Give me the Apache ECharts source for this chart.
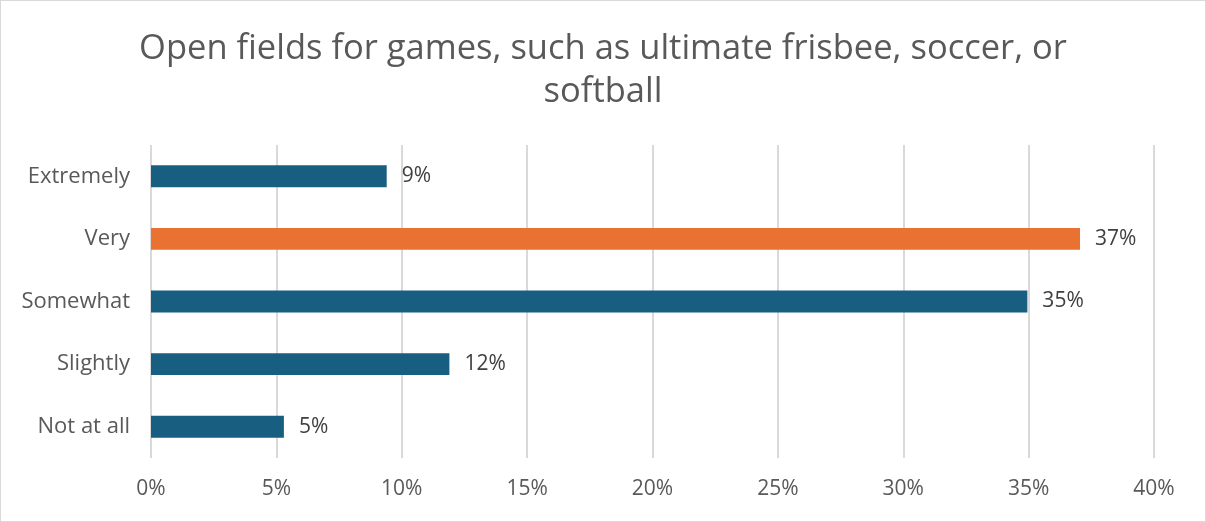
<!DOCTYPE html>
<html>
<head>
<meta charset="utf-8">
<script src="https://cdn.jsdelivr.net/npm/echarts@6/dist/echarts.min.js"></script>
<style>
  html, body { margin: 0; padding: 0; background: #fff; }
  #chart { width: 1206px; height: 522px; box-sizing: border-box; border: 1px solid #d9d9d9; }
</style>
</head>
<body>
<div id="chart"></div>
<script>
// 数据
var categories = ['Extremely', 'Very', 'Somewhat', 'Slightly', 'Not at all'];
var values = [9.4, 37.05, 34.95, 11.9, 5.3];
var highlight = 'Very';

var chart = echarts.init(document.getElementById('chart'));
var fontName = 'Open Sans';

var option = {
    animation: false,
    title: {
        text: 'Open fields for games, such as ultimate frisbee, soccer, or\nsoftball',
        left: 'center',
        top: 22,
        textStyle: {
            color: '#595959',
            fontFamily: fontName,
            fontWeight: 'normal',
            fontSize: 34.5,
            lineHeight: 43
        }
    },
    grid: {
        left: 150,
        right: 51,
        top: 144,
        bottom: 63
    },
    xAxis: {
        type: 'value',
        min: 0,
        max: 40,
        interval: 5,
        axisLine: { show: false },
        axisTick: { show: false },
        axisLabel: {
            formatter: '{value}%',
            color: '#595959',
            fontFamily: fontName,
            fontSize: 21,
            margin: 21
        },
        splitLine: {
            lineStyle: { color: '#d9d9d9', width: 2 }
        }
    },
    yAxis: {
        type: 'category',
        inverse: true,
        data: categories,
        axisLine: { show: false },
        axisTick: { show: false },
        axisLabel: {
            color: '#595959',
            fontFamily: fontName,
            fontSize: 22,
            margin: 21
        }
    },
    series: [{
        type: 'bar',
        barCategoryGap: '65%',
        data: values.map(function (v, i) {
            return {
                value: v,
                itemStyle: { color: categories[i] === highlight ? '#E97132' : '#175E81' }
            };
        }),
        label: {
            show: true,
            position: 'right',
            distance: 15,
            color: '#404040',
            fontFamily: fontName,
            fontSize: 21,
            formatter: function (p) {
                return Math.round(p.value) + '%';
            }
        }
    }]
};
chart.setOption(option);
</script>
</body>
</html>
